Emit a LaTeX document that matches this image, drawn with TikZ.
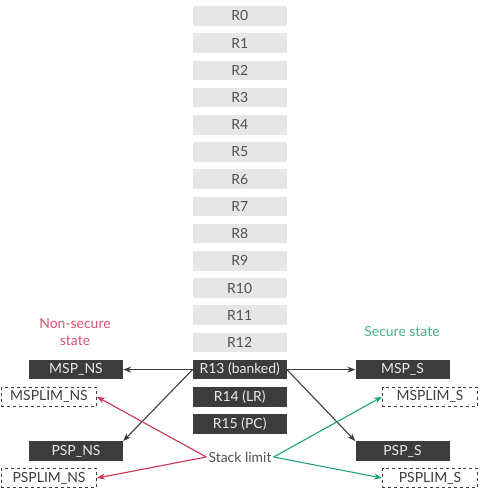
\documentclass[tikz,border=0pt]{standalone}
\usepackage{fontspec}
\setmainfont{Lato}
\usetikzlibrary{arrows.meta}
\definecolor{dbox}{HTML}{3C3C3C}
\definecolor{lbox}{HTML}{E6E6E6}
\definecolor{ltxt}{HTML}{505050}
\definecolor{nsred}{HTML}{CC3352}
\definecolor{sgreen}{HTML}{1FA56E}
\tikzset{
  every node/.style={font=\fontsize{14}{17}\selectfont},
  reg/.style={fill=lbox, text=ltxt, minimum width=94bp, minimum height=19.5bp, inner sep=0pt},
  dreg/.style={fill=dbox, text=white!92!black, minimum width=94bp, minimum height=19.5bp, inner sep=0pt},
  limbox/.style={draw=dbox, dashed, line width=1pt, fill=white, text=dbox, minimum width=95bp, minimum height=19.5bp, inner sep=0pt},
  blk/.style={draw=dbox, line width=1.1pt, -{Stealth[length=8pt,width=6pt]}},
  redarr/.style={draw=nsred, line width=1.1pt, -{Stealth[length=8pt,width=6pt]}},
  grnarr/.style={draw=sgreen, line width=1.1pt, -{Stealth[length=8pt,width=6pt]}},
}
\begin{document}
\begin{tikzpicture}[x=1bp,y=-1bp]
\useasboundingbox (0,0) rectangle (484,495);
\foreach \i in {0,...,12}{
  \node[reg] (r\i) at (239.7,{16+27.2*\i}) {R\i};
}
\node[dreg] (r13) at (239.7,369.6) {R13 (banked)};
\node[dreg] (r14) at (239.7,396.8) {R14 (LR)};
\node[dreg] (r15) at (239.7,424) {R15 (PC)};

\node[dreg] (mspns) at (76,369.6) {MSP\_NS};
\node[dreg] (pspns) at (76,451) {PSP\_NS};
\node[limbox] (msplimns) at (49,396.8) {MSPLIM\_NS};
\node[limbox] (psplimns) at (49,478) {PSPLIM\_NS};

\node[dreg] (msps) at (402.5,369.6) {MSP\_S};
\node[dreg] (psps) at (402.5,451) {PSP\_S};
\node[limbox] (msplims) at (430,396.8) {MSPLIM\_S};
\node[limbox] (psplims) at (430,478) {PSPLIM\_S};

\node[text=nsred!85!white, align=center] (nstitle) at (75,332) {Non-secure\\state};
\node[text=sgreen!85!white] (stitle) at (402,332) {Secure state};

\node[text=ltxt, inner sep=2pt] (stack) at (240,457) {Stack limit};

\draw[blk] (r13.west) -- (mspns.east);
\draw[blk] (r13.west) -- (pspns.north east);
\draw[blk] (r13.east) -- (msps.west);
\draw[blk] (r13.east) -- (psps.north west);

\draw[redarr] (stack.west) -- (msplimns.east);
\draw[redarr] (stack.west) -- (psplimns.east);
\draw[grnarr] (stack.east) -- (msplims.west);
\draw[grnarr] (stack.east) -- (psplims.west);
\end{tikzpicture}
\end{document}
